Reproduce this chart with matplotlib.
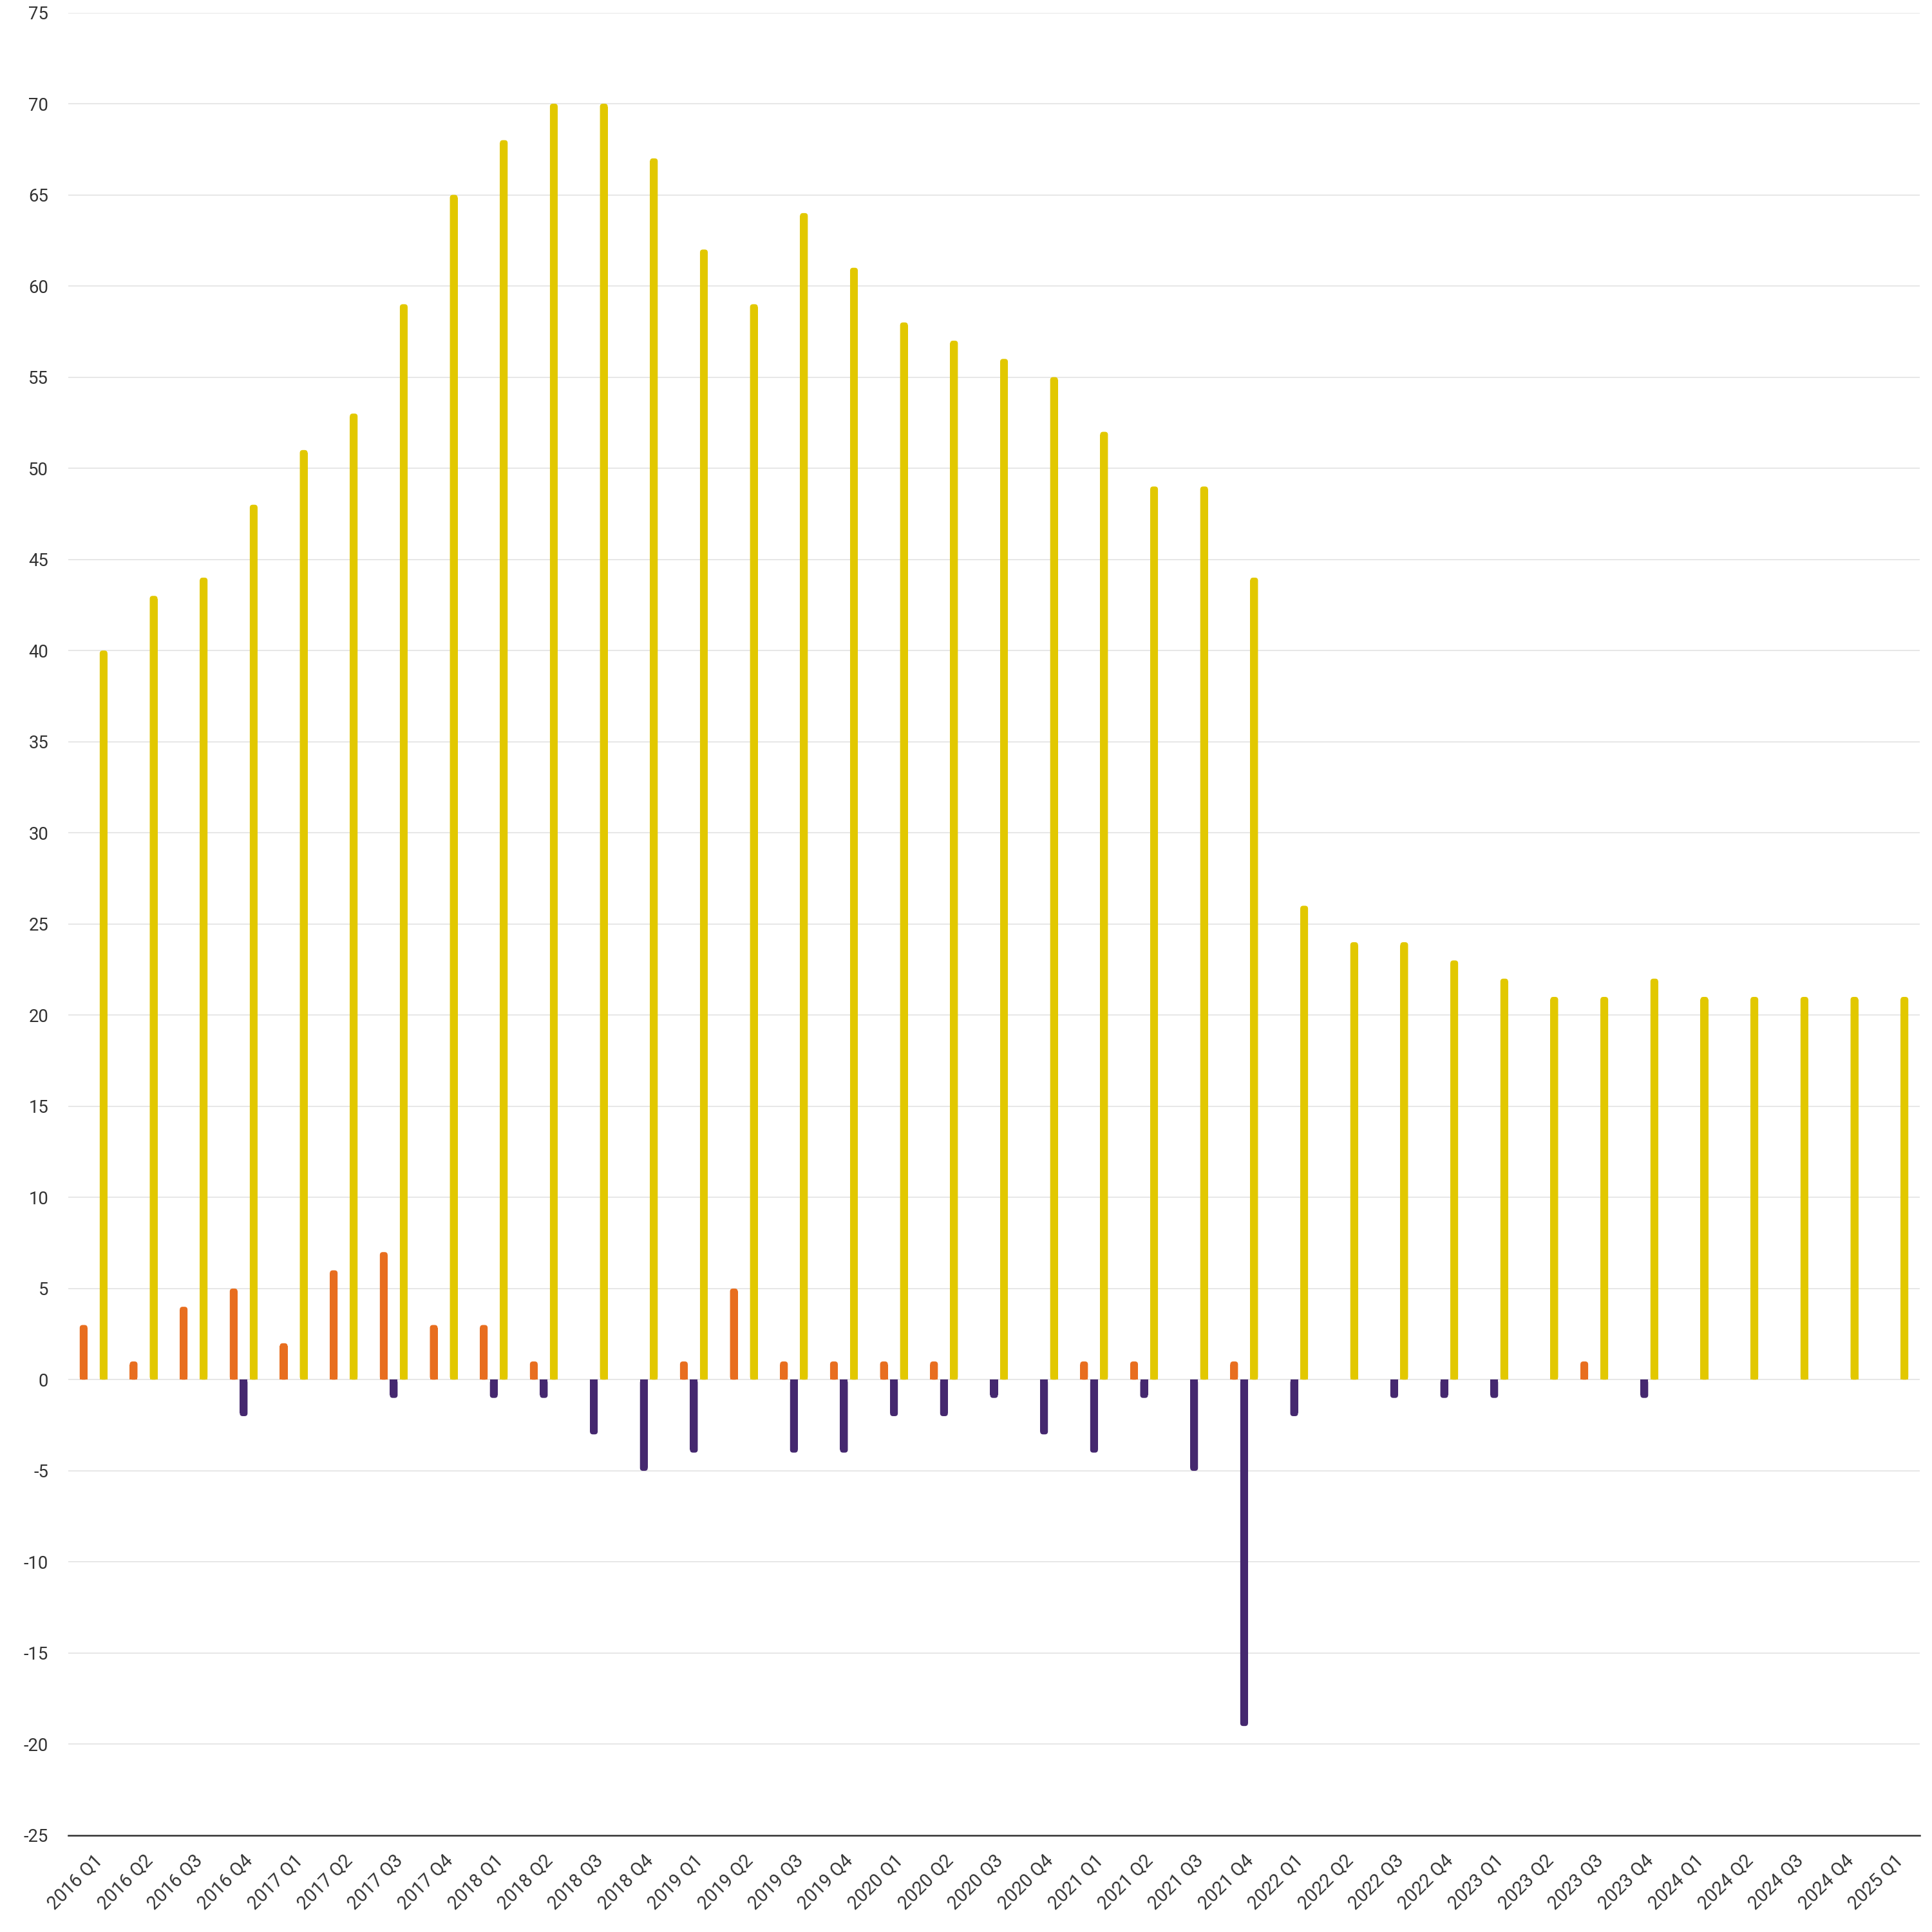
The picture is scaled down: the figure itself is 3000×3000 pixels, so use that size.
import numpy as np
from matplotlib import pyplot as plt
from matplotlib.patches import FancyBboxPatch

plt.rcParams['font.family'] = ['Roboto', 'DejaVu Sans']

quarters = ['2016 Q1', '2016 Q2', '2016 Q3', '2016 Q4',
            '2017 Q1', '2017 Q2', '2017 Q3', '2017 Q4',
            '2018 Q1', '2018 Q2', '2018 Q3', '2018 Q4',
            '2019 Q1', '2019 Q2', '2019 Q3', '2019 Q4',
            '2020 Q1', '2020 Q2', '2020 Q3', '2020 Q4',
            '2021 Q1', '2021 Q2', '2021 Q3', '2021 Q4',
            '2022 Q1', '2022 Q2', '2022 Q3', '2022 Q4',
            '2023 Q1', '2023 Q2', '2023 Q3', '2023 Q4',
            '2024 Q1', '2024 Q2', '2024 Q3', '2024 Q4',
            '2025 Q1']

# small positive series (orange)
orange_vals = [3, 1, 4, 5, 2, 6, 7, 3, 3, 1, 0, 0,
               1, 5, 1, 1, 1, 1, 0, 0, 1, 1, 0, 1,
               0, 0, 0, 0, 0, 0, 1, 0, 0, 0, 0, 0, 0]
# negative series (purple)
purple_vals = [0, 0, 0, -2, 0, 0, -1, 0, -1, -1, -3, -5,
               -4, 0, -4, -4, -2, -2, -1, -3, -4, -1, -5, -19,
               -2, 0, -1, -1, -1, 0, 0, -1, 0, 0, 0, 0, 0]
# large series (yellow)
yellow_vals = [40, 43, 44, 48, 51, 53, 59, 65, 68, 70, 70, 67,
               62, 59, 64, 61, 58, 57, 56, 55, 52, 49, 49, 44,
               26, 24, 24, 23, 22, 21, 21, 22, 21, 21, 21, 21, 21]

y_ticks = list(range(-25, 80, 5))

# orange -> #e86e1f, purple -> #45286f, yellow -> #e2c800
series = [(orange_vals, -0.2, '#e86e1f'),
          (purple_vals, 0.0, '#45286f'),
          (yellow_vals, 0.2, '#e2c800')]

fig = plt.figure(figsize=(10, 10), dpi=300, facecolor='white')
ax = fig.add_axes([0.0355, 0.05, 0.958, 0.9435])

n = len(quarters)
ax.set_xlim(-0.5, n - 0.5)
ax.set_ylim(-25, 75)

# pixels per data unit, used to round only the far end of each bar
pos = ax.get_position()
px_x = pos.width * 3000 / n
px_y = pos.height * 3000 / 100
r_px = 4.5
rx = r_px / px_x
ry = r_px / px_y
width = 0.155

x = np.arange(n)
for vals, off, col in series:
    vals = np.array(vals, dtype=float)
    keep = vals != 0
    xs = x[keep] + off
    vs = vals[keep]
    # straight part up to the start of the rounding
    ax.bar(xs, vs - np.sign(vs) * ry, width=width, color=col,
           linewidth=0, zorder=3)
    for xi, v in zip(xs, vs):
        lo = min(0, v)
        p = FancyBboxPatch((xi - width / 2, lo), width, abs(v),
                           boxstyle=f'round,pad=0,rounding_size={rx}',
                           mutation_aspect=ry / rx,
                           facecolor=col, linewidth=0, zorder=3)
        ax.add_patch(p)

ax.set_yticks(y_ticks)
ax.set_yticklabels([str(t) for t in y_ticks])
ax.set_xticks(x)
ax.set_xticklabels(quarters, rotation=45, ha='right', rotation_mode='anchor')

ax.grid(axis='y', color='#e6e6e6', linewidth=0.45, zorder=0)
ax.set_axisbelow(True)
ax.tick_params(axis='both', length=0, labelsize=6.6, labelcolor='#333333')
ax.tick_params(axis='x', labelsize=6.9, pad=6)
ax.tick_params(axis='y', pad=7.5)

for s in ['top', 'right', 'left']:
    ax.spines[s].set_visible(False)
ax.spines['bottom'].set_color('#333333')
ax.spines['bottom'].set_linewidth(0.6)
ax.spines['bottom'].set_zorder(4)

fig.savefig('out.png', dpi=300, facecolor='white')
